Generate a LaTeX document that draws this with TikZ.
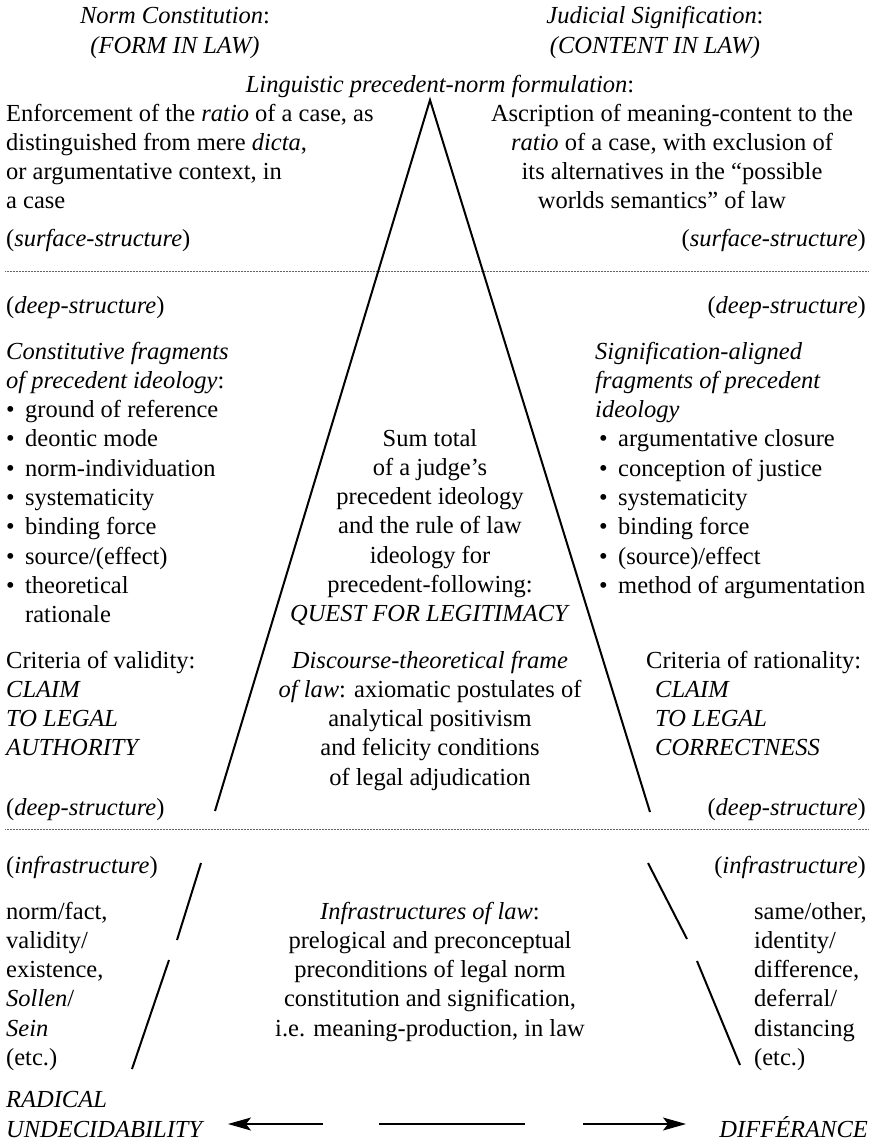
\documentclass[tikz,border=0pt]{standalone}
\usepackage{fontspec}
\setmainfont{Liberation Serif}
\usetikzlibrary{arrows.meta}
\definecolor{rulegray}{RGB}{100,100,100}
\newcommand{\itembullet}{\makebox[19pt][l]{\textbullet}}
\newcommand{\itemskip}{\hspace*{19pt}}

\begin{document}
\begin{tikzpicture}[
    x=1pt, y=-1pt,
    every node/.style={inner sep=0pt, font=\fontsize{24.5}{29.3}\selectfont},
    % anchors sit on the baseline of the LAST line of a block
    leftblock/.style={anchor=base west, align=left},
    rightblock/.style={anchor=base east, align=right},
    midblock/.style={anchor=base, align=center},
    legline/.style={line width=2pt},
    levelrule/.style={rulegray, line width=0.8pt, dash pattern=on 0.7pt off 0.8pt},
    arrow/.style={
        -{Stealth[length=23pt, width=13pt, inset=5pt]},
        line width=1.2pt
    }
]
\useasboundingbox (0,0) rectangle (873,1145);

% =================== Headings ===================
\node[midblock] (formhead) at (175,53.3) {\textit{Norm Constitution}:\\\textit{(FORM IN LAW)}};
\node[midblock] (contenthead) at (655,53.3) {\textit{Judicial Signification}:\\\textit{(CONTENT IN LAW)}};
\node[midblock] (formulation) at (440,93) {\textit{Linguistic precedent-norm formulation}:};

% =================== Surface structure ===================
\node[leftblock] (enforce) at (6,208.9) {Enforcement of the \textit{ratio} of a case, as\\
    distinguished from mere \textit{dicta},\\or argumentative context, in\\a case};
\node[midblock] (ascribe) at (672,208.9) {Ascription of meaning-content to the\\
    \textit{ratio} of a case, with exclusion of\\its alternatives in the ``possible\\
    worlds semantics'' of law\hspace*{20pt}};
\node[leftblock] (surfl) at (6,246) {(\textit{surface-structure})};
\node[rightblock] (surfr) at (866,246) {(\textit{surface-structure})};

\draw[levelrule] (5,271) -- (868,271);

% =================== Deep structure ===================
\node[leftblock] (deepl) at (6,313) {(\textit{deep-structure})};
\node[rightblock] (deepr) at (866,313) {(\textit{deep-structure})};

\node[leftblock] (constfrag) at (6,622.7) {\textit{Constitutive fragments}\\
    \textit{of precedent ideology}:\\
    \itembullet ground of reference\\
    \itembullet deontic mode\\
    \itembullet norm-individuation\\
    \itembullet systematicity\\
    \itembullet binding force\\
    \itembullet source/(effect)\\
    \itembullet theoretical\\
    \itemskip rationale};
\node[leftblock] (signfrag) at (595,593.4) {\textit{Signification-aligned}\\
    \textit{fragments of precedent}\\
    \textit{ideology}\\
    \hspace*{4pt}\itembullet argumentative closure\\
    \hspace*{4pt}\itembullet conception of justice\\
    \hspace*{4pt}\itembullet systematicity\\
    \hspace*{4pt}\itembullet binding force\\
    \hspace*{4pt}\itembullet (source)/effect\\
    \hspace*{4pt}\itembullet method of argumentation};
\node[midblock] (sumtotal) at (430,621.8) {Sum total\\of a judge's\\precedent ideology\\
    and the rule of law\\ideology for\\precedent-following:\\
    \textit{QUEST FOR LEGITIMACY}};

\node[leftblock] (validity) at (6,755.9) {Criteria of validity:\\\textit{CLAIM}\\
    \textit{TO LEGAL}\\\textit{AUTHORITY}};
\node[leftblock] (rationality) at (646,755.9) {Criteria of rationality:\\
    \hspace*{9pt}\textit{CLAIM}\\\hspace*{9pt}\textit{TO LEGAL}\\
    \hspace*{9pt}\textit{CORRECTNESS}};
\node[midblock] (discourse) at (430,785.2) {\textit{Discourse-theoretical frame}\\
    \textit{of law}: axiomatic postulates of\\analytical positivism\\
    and felicity conditions\\of legal adjudication};

\node[leftblock] (deepl2) at (6,815) {(\textit{deep-structure})};
\node[rightblock] (deepr2) at (866,815) {(\textit{deep-structure})};

\draw[levelrule] (5,829) -- (868,829);

% =================== Infrastructure ===================
\node[leftblock] (infral) at (6,873) {(\textit{infrastructure})};
\node[rightblock] (infrar) at (866,873) {(\textit{infrastructure})};

\node[leftblock] (normfact) at (6,1065.5) {norm/fact,\\validity/\\existence,\\
    \textit{Sollen}/\\\textit{Sein}\\(etc.)};
\node[midblock] (infralaw) at (430,1036.2) {\textit{Infrastructures of law}:\\
    prelogical and preconceptual\\preconditions of legal norm\\
    constitution and signification,\\i.e. meaning-production, in law};
\node[leftblock] (sameother) at (754,1065.5) {same/other,\\identity/\\difference,\\
    deferral/\\distancing\\(etc.)};

% =================== Bottom poles ===================
\node[leftblock] (undecid) at (6,1137) {\textit{RADICAL}\\\textit{UNDECIDABILITY}};
\node[rightblock] (differance) at (868,1137) {\textit{DIFFÉRANCE}};

% =================== Triangle legs ===================
\coordinate (apex) at (430,100);
\coordinate (deepfootl) at (215,811);
\coordinate (deepfootr) at (650,812);
\draw[legline] (deepfootl) -- (apex) -- (deepfootr);

\coordinate (infratopl) at (201,863);
\coordinate (infrabrkl) at (177,940);
\coordinate (infrareml) at (169,960);
\coordinate (infrafootl) at (132,1069);
\draw[legline] (infratopl) -- (infrabrkl);
\draw[legline] (infrareml) -- (infrafootl);

\coordinate (infratopr) at (648,863);
\coordinate (infrabrkr) at (687,939);
\coordinate (infraremr) at (697,961);
\coordinate (infrafootr) at (740,1065);
\draw[legline] (infratopr) -- (infrabrkr);
\draw[legline] (infraremr) -- (infrafootr);

% =================== Arrows ===================
\coordinate (arrowstartl) at (323,1124);
\coordinate (arrowtipl) at (228,1124);
\coordinate (barl) at (379,1124);
\coordinate (barr) at (525,1124);
\coordinate (arrowstartr) at (583,1124);
\coordinate (arrowtipr) at (686,1124);
\draw[arrow] (arrowstartl) -- (arrowtipl);
\draw[line width=1.2pt] (barl) -- (barr);
\draw[arrow] (arrowstartr) -- (arrowtipr);

\end{tikzpicture}
\end{document}
